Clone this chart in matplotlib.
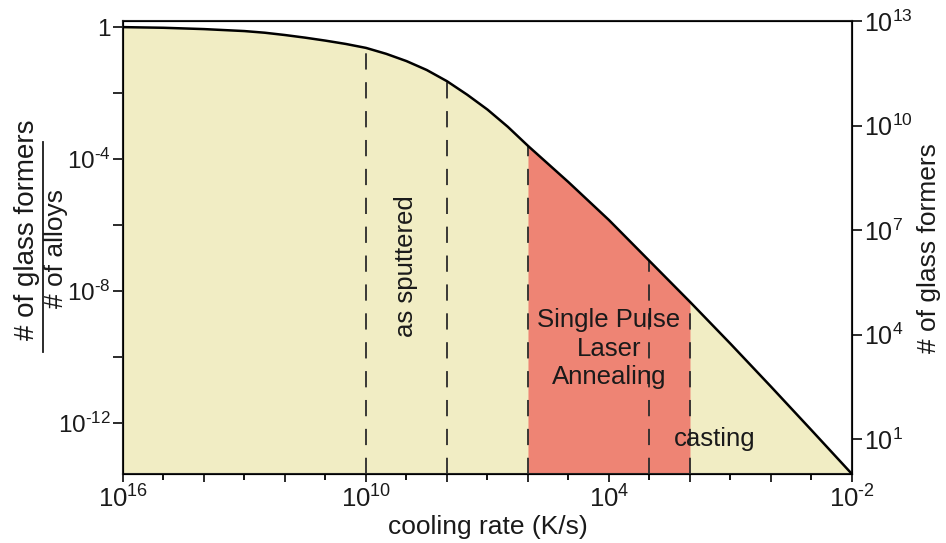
import numpy as np
import matplotlib
matplotlib.use('Agg')
import matplotlib.pyplot as plt
from matplotlib.ticker import FixedLocator, NullFormatter, FuncFormatter
from matplotlib.lines import Line2D

plt.rcParams['font.family'] = ['Liberation Sans', 'DejaVu Sans']
plt.rcParams['mathtext.default'] = 'regular'

# curve (log10 cooling rate, log10 fraction)
log_rate = [16, 15.5, 15, 14.5, 14, 13.5, 13, 12.5, 12, 11.5, 11, 10.5, 10,
            9.5, 9, 8.5, 8, 7.5, 7, 6.5, 6, 5, 4, 3, 2, 1, 0, -1, -2]
log_frac = [0, -0.01, -0.02, -0.04, -0.06, -0.09, -0.12, -0.17, -0.24, -0.32,
            -0.41, -0.51, -0.63, -0.81, -1.03, -1.3, -1.64, -2.05, -2.5,
            -3.02, -3.6, -4.7, -5.85, -7.09, -8.33, -9.6, -10.9, -12.22, -13.55]

# dashed guide lines (log10 cooling rate)
guide_lines = [10, 8, 6, 3, 2]
# laser annealing window
laser_range = (6, 2)

x_ticklabels = {16: '16', 10: '10', 4: '4', -2: '\u20102'}
y_ticklabels = {-4: '\u20104', -8: '\u20108', -12: '\u201012'}
right_ticks = [1, 4, 7, 10, 13]

rate = 10.0 ** np.array(log_rate, dtype=float)
frac = 10.0 ** np.array(log_frac, dtype=float)
bottom = 10 ** -13.55

beige = '#f1edc4'
salmon = '#ee8474'
ink = '#1a1a1a'


def xfmt(v, p):
    k = int(round(np.log10(v)))
    if k in x_ticklabels:
        return '$10^{%s}$' % x_ticklabels[k]
    return ''


def yfmt(v, p):
    k = int(round(np.log10(v)))
    if k == 0:
        return '1'
    if k in y_ticklabels:
        return '$10^{%s}$' % y_ticklabels[k]
    return ''


fig = plt.figure(figsize=(9.46, 5.43), dpi=100)
ax = fig.add_axes([0.130, 0.127, 0.7706, 0.834])
ax.set_xscale('log')
ax.set_yscale('log')

ax.fill_between(rate, frac, bottom, color=beige, lw=0)
lr = np.array(log_rate)
mask = (lr <= laser_range[0]) & (lr >= laser_range[1])
ax.fill_between(rate[mask], frac[mask], bottom, color=salmon, lw=0)
ax.plot(rate, frac, color='black', lw=1.8, zorder=4)

for g in guide_lines:
    top = frac[log_rate.index(g)]
    ax.plot([10.0 ** g, 10.0 ** g], [bottom, top], color='#2b2b2b', lw=1.3,
            dashes=(9, 7), zorder=3)

ax.set_xlim(1e16, 1e-2)
ax.set_ylim(bottom, 10 ** 0.18)

ax.xaxis.set_major_locator(FixedLocator([10.0 ** k for k in range(16, -3, -2)]))
ax.xaxis.set_minor_locator(FixedLocator([10.0 ** k for k in range(15, -2, -2)]))
ax.xaxis.set_major_formatter(FuncFormatter(xfmt))
ax.xaxis.set_minor_formatter(NullFormatter())

ax.yaxis.set_major_locator(FixedLocator([10.0 ** k for k in range(0, -14, -2)]))
ax.yaxis.set_minor_locator(FixedLocator([]))
ax.yaxis.set_major_formatter(FuncFormatter(yfmt))

ax.tick_params(axis='x', which='major', direction='out', length=6, width=1.3,
               labelsize=18.5, pad=2, colors=ink)
ax.tick_params(axis='x', which='minor', direction='out', length=4, width=1.3)
ax.tick_params(axis='y', which='major', direction='out', length=7, width=1.3,
               labelsize=17.5, pad=2, colors=ink)
for s in ax.spines.values():
    s.set_linewidth(1.5)
    s.set_color('#222222')

ax.set_xlabel('cooling rate (K/s)', fontsize=19, color=ink, labelpad=2)

ax2 = ax.twinx()
ax2.set_yscale('log')
ax2.set_ylim(1, 1e13)
ax2.yaxis.set_major_locator(FixedLocator([10.0 ** k for k in right_ticks]))
ax2.yaxis.set_minor_locator(FixedLocator([]))
ax2.yaxis.set_major_formatter(FuncFormatter(
    lambda v, p: '$10^{%d}$' % int(round(np.log10(v)))))
ax2.tick_params(axis='y', direction='out', length=7, width=1.3, labelsize=18,
                pad=2, colors=ink)
ax2.set_ylabel('# of glass formers', fontsize=19, color=ink, labelpad=3)

# annotations
ax.text(1e9, 10 ** -7.24, 'as sputtered', rotation=90, ha='center', va='center',
        fontsize=18.5, color=ink)
ax.text(1e4, 10 ** -9.75, 'Single Pulse\nLaser\nAnnealing', ha='center',
        va='center', fontsize=18.5, color=ink, linespacing=1.25)
ax.text(10 ** 1.39, 10 ** -12.5, 'casting', ha='center', va='center',
        fontsize=18.5, color=ink)

# left label as a fraction
fig.text(27 / 946, 1 - 230 / 543, '# of glass formers', rotation=90,
         ha='center', va='center', fontsize=20, color=ink)
fig.text(56 / 946, 1 - 249 / 543, '# of alloys', rotation=90,
         ha='center', va='center', fontsize=19, color=ink)
fig.add_artist(Line2D([43 / 946, 43 / 946], [1 - 352 / 543, 1 - 142 / 543],
                      color=ink, lw=1.3, transform=fig.transFigure))

fig.savefig('out.png', dpi=100)
